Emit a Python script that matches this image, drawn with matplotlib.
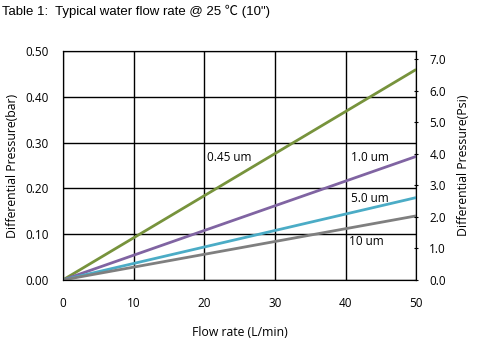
import numpy as np
import matplotlib
matplotlib.use("Agg")
import matplotlib.pyplot as plt

flow = [0, 50]
dp_045 = [0, 0.46]
dp_10 = [0, 0.27]
dp_50 = [0, 0.18]
dp_10um = [0, 0.14]
labels = ["0.45 um", "1.0 um", "5.0 um", "10 um"]
colors = ["#77933C", "#8064A2", "#4BACC6", "#7F7F7F"]

plt.rcParams["font.family"] = ["Open Sans", "DejaVu Sans"]

fig = plt.figure(figsize=(4.8, 3.41), dpi=100)
ax = fig.add_axes([0.131, 0.179, 0.736, 0.671])

for ys, c in zip([dp_045, dp_10, dp_50, dp_10um], colors):
    ax.plot(flow, ys, color=c, lw=2, solid_capstyle="butt")

ax.set_xlim(0, 50)
ax.set_ylim(0, 0.5)
ax.set_xticks(np.arange(0, 51, 10))
ax.set_yticks(np.arange(0, 0.51, 0.1))
ax.set_yticklabels([f"{v:.2f}" for v in np.arange(0, 0.51, 0.1)])
ax.grid(True, color="black", lw=1)
ax.tick_params(axis="y", labelsize=8.5, length=0, pad=10)
ax.tick_params(axis="x", labelsize=8.5, length=0, pad=12)
for s in ax.spines.values():
    s.set_color("black")

label_pos = [(20.4, 0.268), (40.8, 0.268), (40.8, 0.179), (40.5, 0.085)]
for lab, (x, y) in zip(labels, label_pos):
    ax.text(x, y, lab, fontsize=8.5, va="center", ha="left")

ax.set_xlabel("Flow rate (L/min)", fontsize=8.8, labelpad=12)
ax.set_ylabel("Differential Pressure(bar)", fontsize=8.8, labelpad=5)

ax2 = ax.twinx()
ax2.set_ylim(0, 0.5 * 14.5038)
ax2.set_yticks(np.arange(0, 7.1, 1.0))
ax2.set_yticklabels([f"{v:.1f}" for v in np.arange(0, 7.1, 1.0)])
ax2.tick_params(labelsize=8.5, length=3, direction="inout", pad=8)
ax2.set_ylabel("Differential Pressure(Psi)", fontsize=8.8, labelpad=8)

fig.text(0.005, 0.968, "Table 1:  Typical water flow rate @ 25 \u2103 (10\")",
         fontsize=9.5, va="center",
         family=["Liberation Sans", "Noto Sans CJK SC", "DejaVu Sans"])

fig.savefig("out.png", dpi=100)
